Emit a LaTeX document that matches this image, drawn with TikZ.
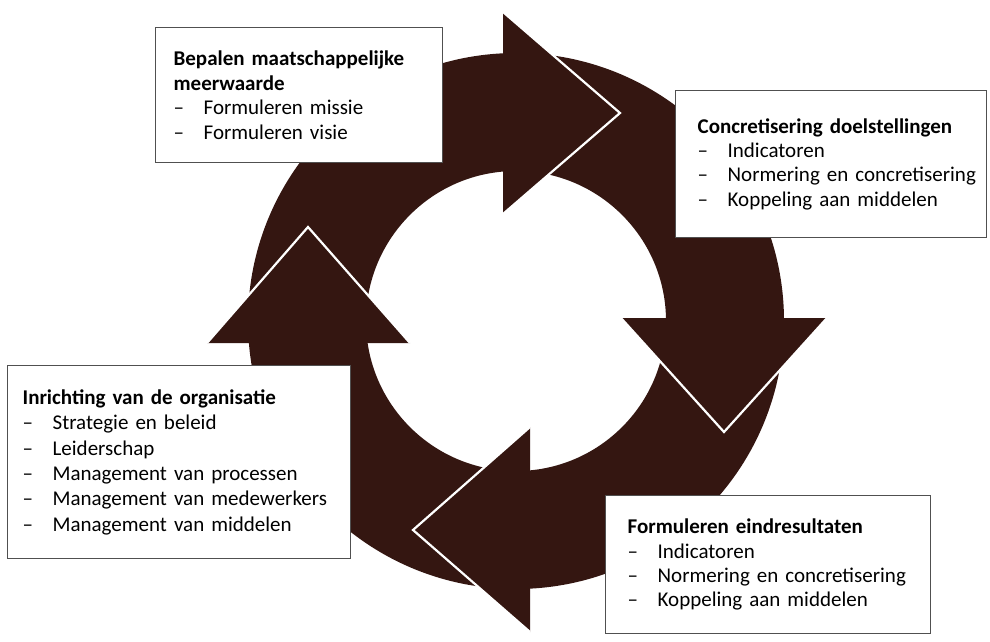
\documentclass[tikz,border=0pt]{standalone}
\usepackage{fontspec}
\setmainfont{Carlito}

\definecolor{ringbrown}{RGB}{52,22,17}
\definecolor{boxline}{RGB}{80,80,80}

\tikzset{
  infobox/.style={draw=boxline, line width=1.3pt, fill=white, anchor=north west,
    inner xsep=18pt, inner ysep=0pt, align=left,
    font=\fontsize{21}{24.4}\selectfont},
  tipline/.style={white, line width=2.2pt, line join=miter},
}
% one line of a list, never broken
\newcommand\punt[1]{\makebox[30pt][l]{--}\mbox{#1}}

\begin{document}
\begin{tikzpicture}[x=1pt, y=-1pt]
\fill[white] (0,0) rectangle (990,642);
\useasboundingbox (0,0) rectangle (990,642);

% the ring
\coordinate (hub) at (516,321);
\fill[ringbrown, even odd rule] (hub) circle[radius=268pt] (hub) circle[radius=150pt];

% arrow heads, white line along the front edges
\foreach \ax/\ay/\bx/\by/\cx/\cy in {503/12/620/113/503/214, 621/318/724/432/827/318,
    530/427/413/530/530/632, 207/343/308/227/410/343}
{
  \fill[ringbrown] (\ax,\ay) -- (\bx,\by) -- (\cx,\cy) -- cycle;
  \draw[tipline] (\ax,\ay) -- (\bx,\by) -- (\cx,\cy);
}

\node[infobox, text width=251pt, minimum height=135pt] (missie) at (155,27)
  {\textbf{Bepalen maatschappelijke}\\ \textbf{meerwaarde}\\
   \punt{Formuleren missie}\\ \punt{Formuleren visie}};

\node[infobox, inner xsep=22pt, text width=267pt, minimum height=147pt] (doelen) at (675,90)
  {\mbox{\textbf{Concretisering doelstellingen}}\\ \punt{Indicatoren}\\
   \punt{Normering en concretisering}\\ \punt{Koppeling aan middelen}};

\node[infobox, inner xsep=15pt, text width=313pt, minimum height=193pt,
  font=\fontsize{21}{25.4}\selectfont] (inrichting) at (7,365)
  {\textbf{Inrichting van de organisatie}\\ \punt{Strategie en beleid}\\
   \punt{Leiderschap}\\ \punt{Management van processen}\\
   \punt{Management van medewerkers}\\ \punt{Management van middelen}};

\node[infobox, inner xsep=22pt, text width=281pt, minimum height=138pt] (resultaten) at (605,495)
  {\textbf{Formuleren eindresultaten}\\ \punt{Indicatoren}\\
   \punt{Normering en concretisering}\\ \punt{Koppeling aan middelen}};

\end{tikzpicture}
\end{document}
